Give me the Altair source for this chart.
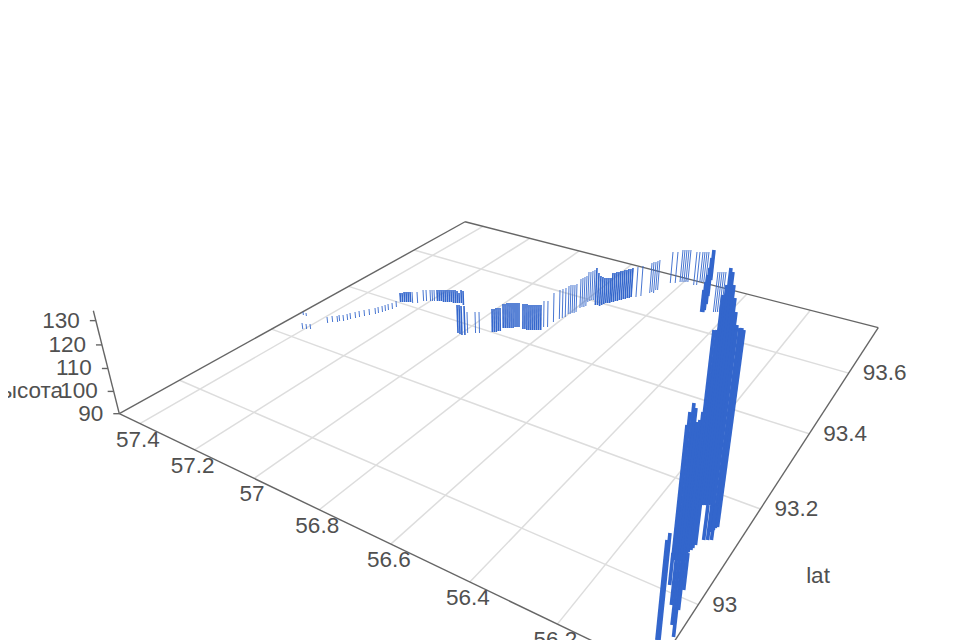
import altair as alt
import numpy as np
import pandas as pd

# --- axis values
lon_ticks = [57.4, 57.2, 57.0, 56.8, 56.6, 56.4, 56.2]
lon_labels = ["57.4", "57.2", "57", "56.8", "56.6", "56.4", "56.2"]
lat_ticks = [93.6, 93.4, 93.2, 93.0]
lat_labels = ["93.6", "93.4", "93.2", "93"]
z_ticks = [90, 100, 110, 120, 130]
lon_min, lon_max = 56.0, 57.48
lat_min, lat_max = 92.887, 93.78
z_top = 134

# --- camera calibration (page pixels)
front_ticks = [(138, 422), (193, 449), (253, 478), (320, 509), (392, 544), (472, 583), (558, 625)]
back_ticks = [(480, 225), (527, 238), (578, 251), (632, 266), (688, 280), (745, 293), (812, 312)]
left_ticks = [(417, 251), (352, 287), (273, 331), (180, 382)]
right_ticks = [(848, 373), (808, 434), (758, 509), (698, 603)]
corners = [((lon_max, lat_min), (118, 413)), ((lon_max, lat_max), (466, 220)), ((lon_min, lat_max), (881, 326))]
vanish = (519.0, 2000.0)
z_k = -0.0554 / 40

world, screen = [], []
for lo, p, q in zip(lon_ticks, front_ticks, back_ticks):
    world += [(lo, lat_min), (lo, lat_max)]
    screen += [p, q]
for la, p, q in zip(lat_ticks, left_ticks, right_ticks):
    world += [(lon_max, la), (lon_min, la)]
    screen += [p, q]
for w, s in corners:
    world.append(w)
    screen.append(s)
W = np.array(world) - [56.7, 93.3]
S = (np.array(screen, dtype=float) - [480, 400]) / 400
A = []
for (a, b), (x, y) in zip(W, S):
    A.append([a, b, 1, 0, 0, 0, -x * a, -x * b, -x])
    A.append([0, 0, 0, a, b, 1, -y * a, -y * b, -y])
H = np.linalg.svd(np.array(A))[2][-1].reshape(3, 3)


def ground(lon, lat):
    v = H @ np.array([lon - 56.7, lat - 93.3, 1.0])
    return v[0] / v[2] * 400 + 480, v[1] / v[2] * 400 + 400


# --- track strands: (x at top, y top, y bottom) in projected page pixels
thin = [
    (303, 312, 315), (306, 313, 316), (302, 323, 329), (306, 324, 329), (310, 324, 329),
    (327, 317, 323), (332, 316, 322), (337, 316, 322), (339, 315, 321), (343, 315, 321),
    (347, 314, 320), (350, 313, 319), (355, 312, 318), (359, 311, 317), (364, 310, 316),
    (369, 309, 315), (375, 308, 314), (378, 307, 313), (382, 306, 312), (385, 305, 311),
    (388, 304, 310), (392, 303, 309), (396, 301, 307),
    (412, 292, 303), (417, 292, 303), (423, 290, 301), (426, 290, 301), (430, 290, 301),
    (432, 290, 301), (434, 290, 301),
    (467, 312, 333), (475, 312, 333), (479, 312, 333),
    (544, 301, 327), (548, 301, 327), (554, 293, 322), (560, 290, 319), (563, 289, 318),
    (566, 288, 317), (569, 286, 314), (571, 285, 314), (573, 285, 313), (575, 285, 313),
    (577, 284, 312), (581, 279, 308), (583, 278, 307), (585, 277, 307), (587, 276, 306),
    (589, 272, 302), (591, 272, 301), (593, 271, 300), (595, 270, 300),
    (638, 267, 297), (643, 266, 296),
    (652, 263, 293), (654, 262, 292), (656, 262, 293), (658, 261, 290), (660, 260, 290),
    (673, 252, 283), (678, 252, 283), (683, 250, 282), (685, 250, 282), (687, 250, 282),
    (689, 250, 282), (691, 250, 282), (697, 252, 285), (700, 252, 285), (703, 252, 282),
    (705, 252, 282), (707, 252, 282), (709, 252, 282),
    (718, 272, 312), (720, 272, 312), (722, 272, 312), (724, 272, 312), (726, 272, 312),
]
medium = [
    (400, 293, 302), (402, 293, 302), (404, 292, 302), (406, 292, 302), (408, 292, 302),
    (410, 292, 302),
    (437, 290, 301), (439, 290, 301), (441, 290, 301), (443, 290, 302), (445, 290, 302),
    (447, 290, 302), (449, 290, 302), (451, 290, 302), (453, 290, 303), (455, 290, 303),
    (457, 291, 303),
    (459, 293, 303), (461, 290, 303), (463, 291, 305),
    (457, 305, 333), (459, 305, 334), (461, 306, 335), (464, 306, 335),
    (492, 309, 332), (494, 309, 332), (496, 308, 332), (498, 308, 331), (500, 308, 331),
    (503, 304, 328), (505, 304, 328), (507, 303, 328), (509, 303, 328), (511, 303, 328),
    (513, 303, 328), (515, 303, 327), (517, 303, 327), (519, 303, 327),
    (523, 304, 329), (525, 304, 329), (527, 304, 330), (529, 305, 330), (531, 305, 330),
    (533, 305, 330), (535, 305, 330), (537, 305, 330), (539, 305, 330), (541, 305, 330),
    (597, 268, 305), (599, 273, 305), (601, 276, 306), (603, 277, 305), (605, 278, 304),
    (607, 278, 303), (609, 278, 303), (611, 278, 303),
    (613, 273, 302), (615, 273, 302), (617, 272, 301), (619, 272, 301), (621, 271, 300),
    (623, 271, 300), (625, 270, 299), (627, 270, 299), (629, 269, 298), (631, 269, 298),
    (633, 268, 297),
]
thick = [
    (714, 250, 280), (712, 258, 296), (710, 268, 304), (708, 275, 310), (706, 282, 312),
    (704, 290, 312),
    (670, 533, 640), (667, 540, 640),
    (687, 425, 560), (690, 412, 560), (694, 403, 560), (696, 408, 560), (697, 422, 556),
    (700, 420, 556), (703, 412, 553), (714, 330, 552), (717, 330, 550), (723, 295, 548),
    (727, 285, 545), (731, 268, 505), (733, 272, 505), (734, 285, 505), (735, 298, 505),
    (736, 312, 505), (737, 325, 532), (740, 328, 530), (742, 328, 528), (744, 330, 527),
    (708, 505, 540), (712, 505, 540), (716, 505, 540),
    (673, 553, 585), (677, 553, 605), (680, 553, 625), (683, 553, 637), (685, 553, 610),
    (688, 553, 590),
]

# --- frames
grid, edges = [], []
for lo in lon_ticks:
    a, b = ground(lo, lat_min), ground(lo, lat_max)
    grid.append(dict(x=a[0], y=a[1], x2=b[0], y2=b[1]))
for la in lat_ticks:
    a, b = ground(lon_min, la), ground(lon_max, la)
    grid.append(dict(x=a[0], y=a[1], x2=b[0], y2=b[1]))
box = [ground(lon_max, lat_min), ground(lon_max, lat_max), ground(lon_min, lat_max), ground(lon_min, lat_min)]
for i in range(4):
    a, b = box[i], box[(i + 1) % 4]
    edges.append(dict(x=a[0], y=a[1], x2=b[0], y2=b[1]))


def zpoint(z):
    x0, y0 = box[0]
    k = z_k * (z - 90)
    return (x0 + k * vanish[0]) / (1 + k), (y0 + k * vanish[1]) / (1 + k)


p0, p1 = zpoint(90), zpoint(z_top)
edges.append(dict(x=p0[0], y=p0[1], x2=p1[0], y2=p1[1]))
labels = []
for z in z_ticks:
    p = zpoint(z)
    edges.append(dict(x=p[0] - 6, y=p[1], x2=p[0], y2=p[1]))
    labels.append(dict(x=p[0] - 16, y=p[1], t=str(z), a="right"))
for lo, t in zip(lon_ticks, lon_labels):
    p = ground(lo, lat_min)
    labels.append(dict(x=p[0] - 2, y=p[1] + 16, t=t, a="center"))
for la, t in zip(lat_ticks, lat_labels):
    p = ground(lon_min, la)
    labels.append(dict(x=p[0] + 14, y=p[1], t=t, a="left"))
titles = [dict(x=818, y=576, t="lat"), dict(x=63, y=391, t="высота")]

X = alt.X("x:Q", axis=None, scale=alt.Scale(domain=[8, 952], nice=False, zero=False))
Y = alt.Y("y:Q", axis=None, scale=alt.Scale(domain=[640, 8], nice=False, zero=False))
TC = "#505050"


def segments(rows, color, width, opacity=1.0):
    return alt.Chart(pd.DataFrame(rows)).mark_rule(color=color, strokeWidth=width, opacity=opacity, clip=True).encode(
        x=X, y=Y, x2="x2:Q", y2="y2:Q"
    )


def strands(rows, width):
    out = []
    for x, top, bot in rows:
        out.append(dict(x=x, y=top, x2=x + (vanish[0] - x) * (bot - top) / (vanish[1] - top), y2=bot))
    return segments(out, "#3366cc", width)


text = lambda rows, align: alt.Chart(pd.DataFrame(rows)).mark_text(
    font="Liberation Sans", fontSize=22.5, color=TC, align=align, baseline="middle"
).encode(x=X, y=Y, text="t:N")

lab_df = pd.DataFrame(labels)
layers = [
    segments(grid, "#dddddd", 1.5),
    segments(edges, "#666666", 1.4),
    strands(thin, 0.9),
    strands(medium, 1.6),
    strands(thick, 3.6),
]
for al in ["left", "center", "right"]:
    layers.append(text(lab_df[lab_df.a == al].to_dict("records"), al))
layers.append(text(titles[:1], "center"))
layers.append(text(titles[1:], "right"))

chart = alt.layer(*layers).properties(
    width=944, height=632, padding=0, autosize=alt.AutoSizeParams(type="none")
).configure_view(stroke=None)
chart.save("out.html", embed_options={"renderer": "svg", "actions": False})
